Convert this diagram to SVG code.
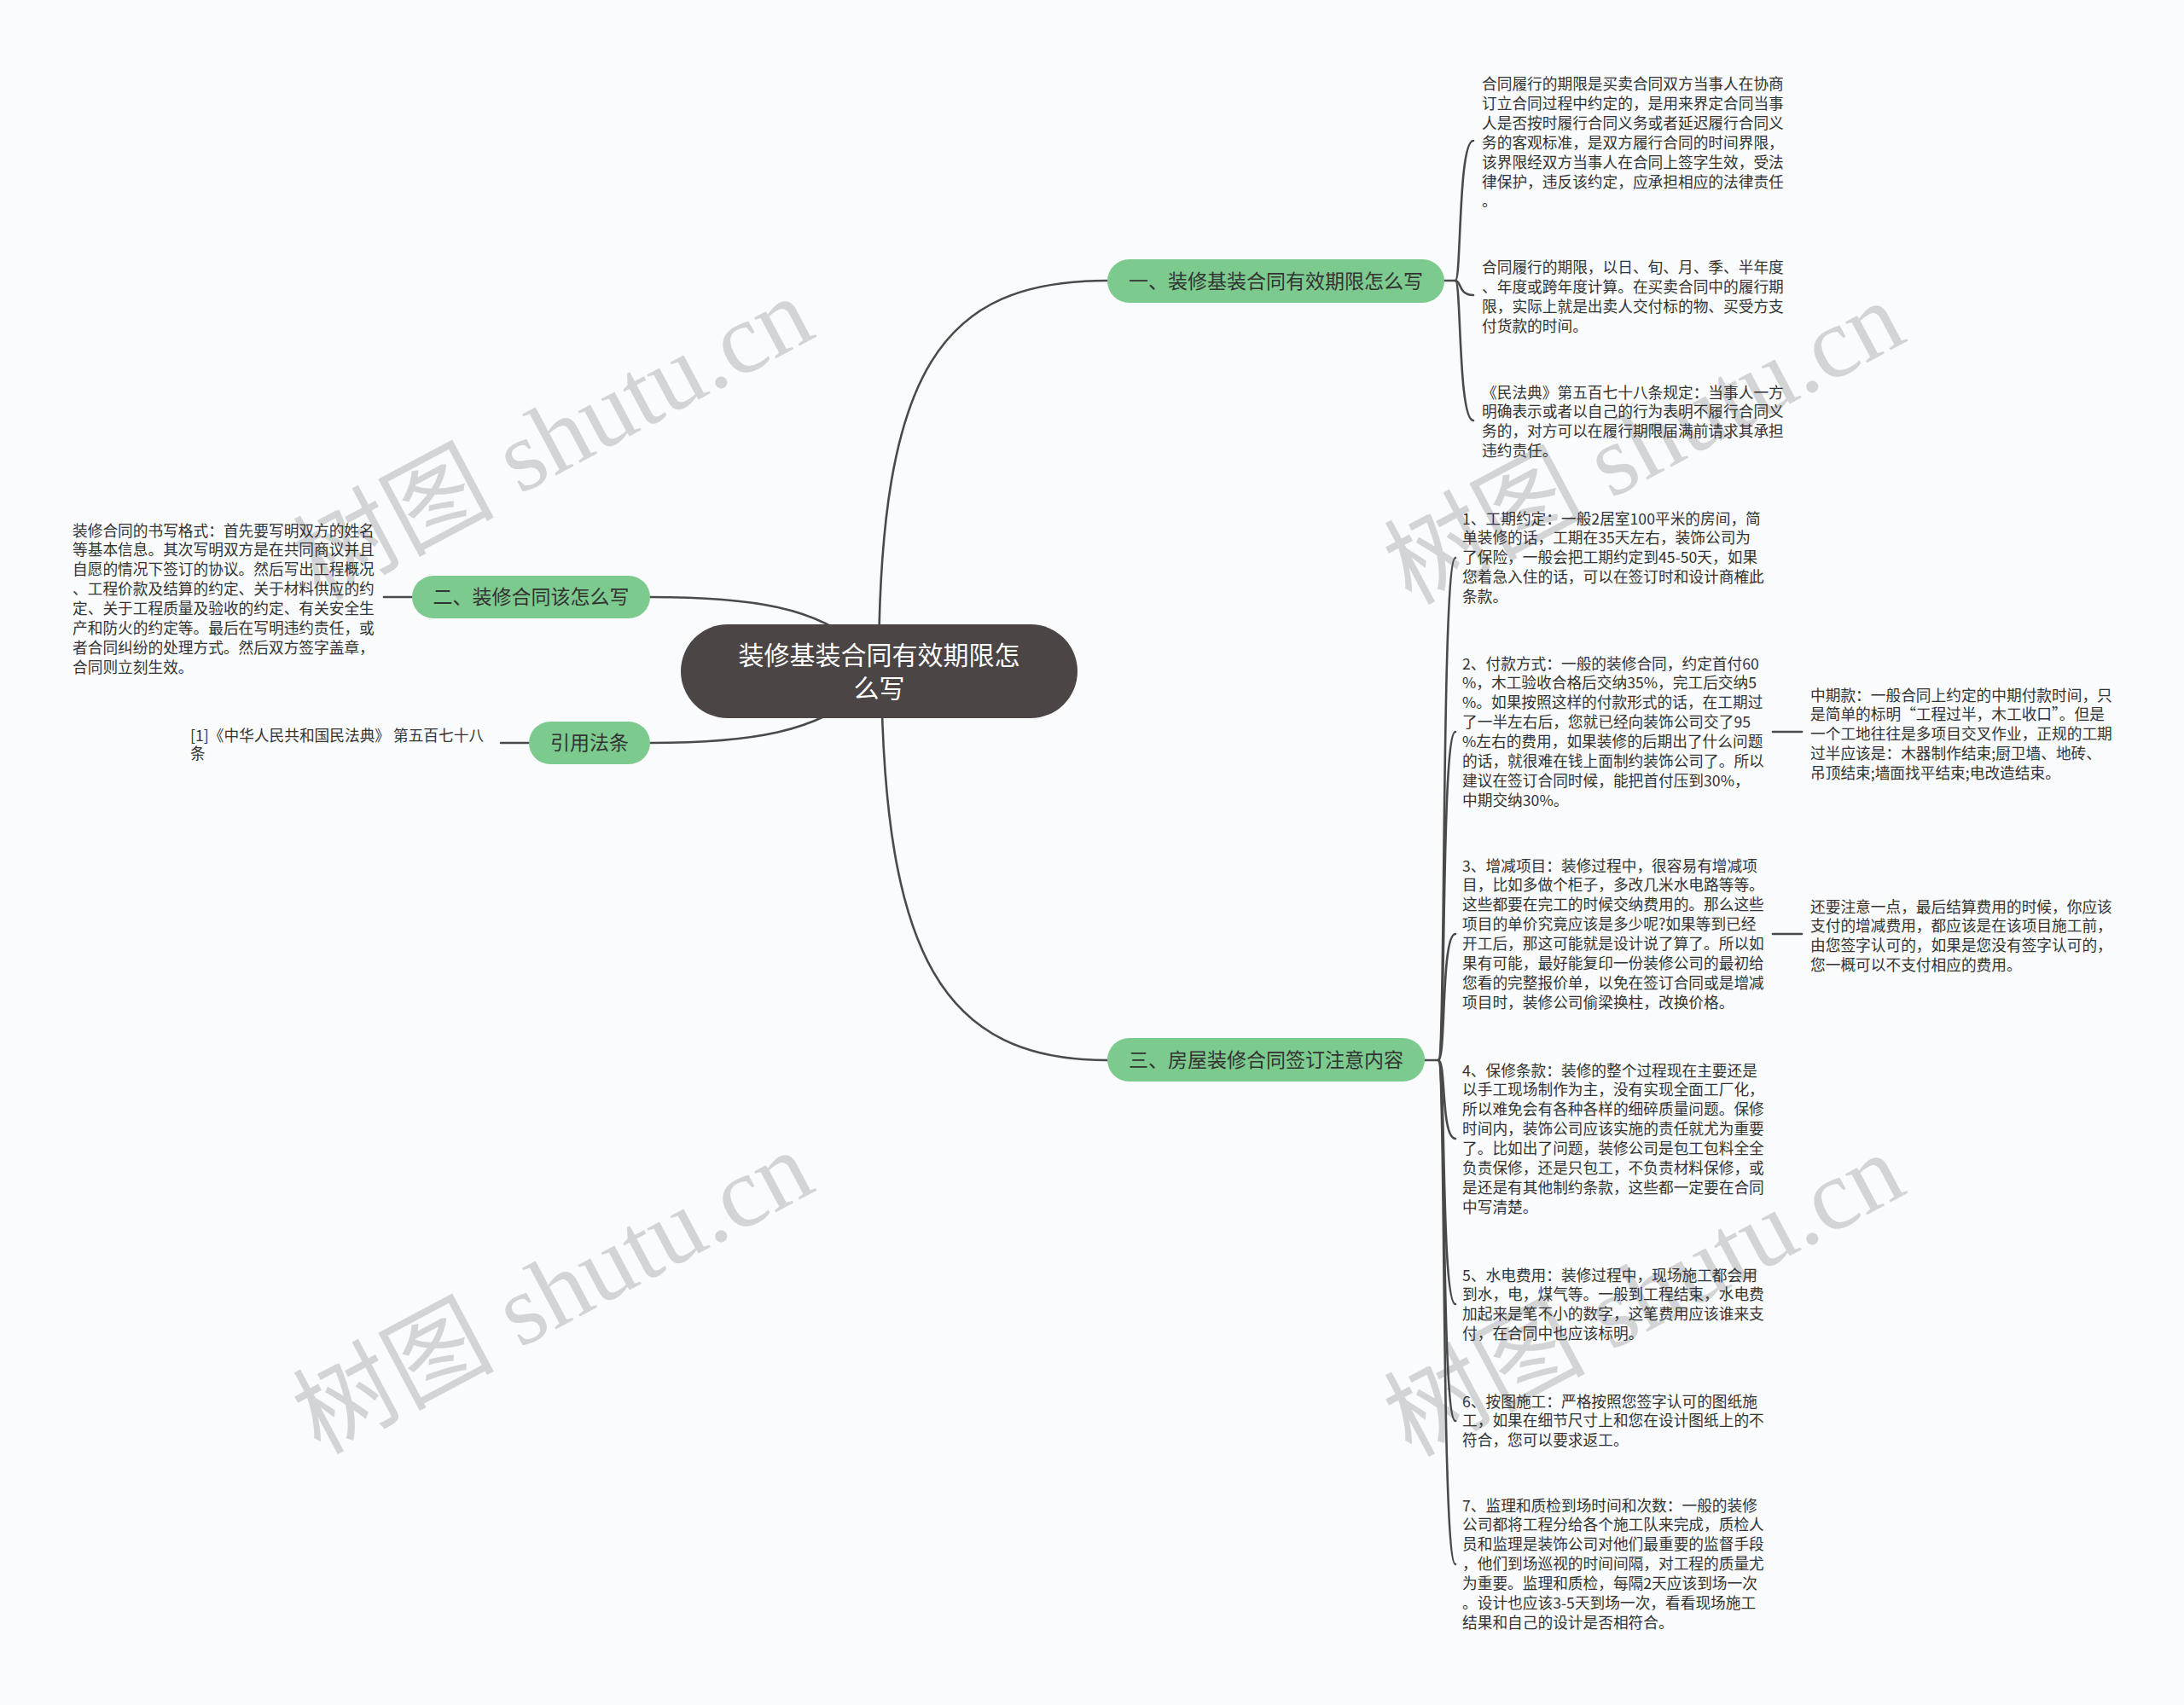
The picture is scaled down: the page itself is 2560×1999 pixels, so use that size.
<svg xmlns="http://www.w3.org/2000/svg" width="2560" height="1999" viewBox="0 0 2560 1999">
<style>
.bg{fill:#f9fbfc}
.wm{font-family:"Liberation Serif","Noto Sans CJK SC",serif;font-size:118px;fill:#d2d4d5;text-anchor:middle}
.ln{fill:none;stroke:#4a4a4a;stroke-width:2.6;stroke-linecap:round}
.t{font-family:"Noto Sans CJK SC","Noto Sans",sans-serif;font-size:17.7px;fill:#333}
.br rect{fill:#7dca8e}
.br text{font-family:"Noto Sans CJK SC","Noto Sans",sans-serif;font-size:23px;fill:#333;text-anchor:middle}
.root rect{fill:#4b4546}
.root text{font-family:"Noto Sans CJK SC","Noto Sans",sans-serif;font-size:30px;fill:#fff;text-anchor:middle}
</style>
<rect class="bg" x="0" y="0" width="2560" height="1999"/>
<g id="watermarks">
<text class="wm" transform="translate(648,514) rotate(-28)" y="40">树图 shutu.cn</text>
<text class="wm" transform="translate(1927,519) rotate(-28)" y="40">树图 shutu.cn</text>
<text class="wm" transform="translate(648,1515) rotate(-28)" y="40">树图 shutu.cn</text>
<text class="wm" transform="translate(1927,1518) rotate(-28)" y="40">树图 shutu.cn</text>
</g>
<g id="connectors">
<path class="ln" d="M1030 787 C1030 430 1105 329 1298 329"/>
<path class="ln" d="M1033 787 C1036 1120 1105 1243 1298 1243"/>
<path class="ln" d="M1010 760 C960 712 880 700 762 700"/>
<path class="ln" d="M1010 810 C960 858 880 871 762 871"/>
<path class="ln" d="M1693 329 H1706"/>
<path class="ln" d="M1706 329 C1713 329 1709 165 1727 165"/>
<path class="ln" d="M1706 329 C1713 329 1709 346 1727 346"/>
<path class="ln" d="M1706 329 C1713 329 1709 493 1727 493"/>
<path class="ln" d="M1669 1243 H1686"/>
<path class="ln" d="M1686 1243 C1695 1243 1689 654 1706 654"/>
<path class="ln" d="M1686 1243 C1695 1243 1689 858 1706 858"/>
<path class="ln" d="M1686 1243 C1695 1243 1689 1095 1706 1095"/>
<path class="ln" d="M1686 1243 C1695 1243 1689 1335 1706 1335"/>
<path class="ln" d="M1686 1243 C1695 1243 1689 1529 1706 1529"/>
<path class="ln" d="M1686 1243 C1695 1243 1689 1666 1706 1666"/>
<path class="ln" d="M1686 1243 C1695 1243 1689 1834 1706 1834"/>
<path class="ln" d="M2078 858 H2112"/>
<path class="ln" d="M2078 1095 H2112"/>
<path class="ln" d="M483 700 H450"/>
<path class="ln" d="M620 871 H587"/>
</g>
<g id="root" class="root">
<rect x="798" y="732" width="465" height="110" rx="55"/>
<text x="1030.5" y="779">装修基装合同有效期限怎</text>
<text x="1030.5" y="818">么写</text>
</g>
<g id="branch1" class="br">
<rect x="1298" y="304" width="395" height="51" rx="25.5"/>
<text x="1495.5" y="337.5">一、装修基装合同有效期限怎么写</text>
</g>
<g id="branch2" class="br">
<rect x="483" y="675" width="279" height="50" rx="25"/>
<text x="622.5" y="708">二、装修合同该怎么写</text>
</g>
<g id="branch3" class="br">
<rect x="1298" y="1217" width="372" height="51" rx="25.5"/>
<text x="1484" y="1250.5">三、房屋装修合同签订注意内容</text>
</g>
<g id="branch4" class="br">
<rect x="620" y="846" width="142" height="50" rx="25"/>
<text x="691" y="879">引用法条</text>
</g>
<g id="b1c1"><text class="t" x="1737" y="105"><tspan x="1737">合同履行的期限是买卖合同双方当事人在协商</tspan><tspan x="1737" dy="22.9">订立合同过程中约定的，是用来界定合同当事</tspan><tspan x="1737" dy="22.9">人是否按时履行合同义务或者延迟履行合同义</tspan><tspan x="1737" dy="22.9">务的客观标准，是双方履行合同的时间界限，</tspan><tspan x="1737" dy="22.9">该界限经双方当事人在合同上签字生效，受法</tspan><tspan x="1737" dy="22.9">律保护，违反该约定，应承担相应的法律责任</tspan><tspan x="1737" dy="22.9">。</tspan></text></g>
<g id="b1c2"><text class="t" x="1737" y="320"><tspan x="1737">合同履行的期限，以日、旬、月、季、半年度</tspan><tspan x="1737" dy="22.9">、年度或跨年度计算。在买卖合同中的履行期</tspan><tspan x="1737" dy="22.9">限，实际上就是出卖人交付标的物、买受方支</tspan><tspan x="1737" dy="22.9">付货款的时间。</tspan></text></g>
<g id="b1c3"><text class="t" x="1737" y="466.5"><tspan x="1737">《民法典》第五百七十八条规定：当事人一方</tspan><tspan x="1737" dy="22.9">明确表示或者以自己的行为表明不履行合同义</tspan><tspan x="1737" dy="22.9">务的，对方可以在履行期限届满前请求其承担</tspan><tspan x="1737" dy="22.9">违约责任。</tspan></text></g>
<g id="b2c1"><text class="t" x="85" y="628.5"><tspan x="85">装修合同的书写格式：首先要写明双方的姓名</tspan><tspan x="85" dy="22.9">等基本信息。其次写明双方是在共同商议并且</tspan><tspan x="85" dy="22.9">自愿的情况下签订的协议。然后写出工程概况</tspan><tspan x="85" dy="22.9">、工程价款及结算的约定、关于材料供应的约</tspan><tspan x="85" dy="22.9">定、关于工程质量及验收的约定、有关安全生</tspan><tspan x="85" dy="22.9">产和防火的约定等。最后在写明违约责任，或</tspan><tspan x="85" dy="22.9">者合同纠纷的处理方式。然后双方签字盖章，</tspan><tspan x="85" dy="22.9">合同则立刻生效。</tspan></text></g>
<g id="b4c1"><text class="t" x="223" y="868.5"><tspan x="223">[1]《中华人民共和国民法典》 第五百七十八</tspan><tspan x="223" dy="21.5">条</tspan></text></g>
<g id="b3c1"><text class="t" x="1714" y="614.5"><tspan x="1714">1、工期约定：一般2居室100平米的房间，简</tspan><tspan x="1714" dy="22.9">单装修的话，工期在35天左右，装饰公司为</tspan><tspan x="1714" dy="22.9">了保险，一般会把工期约定到45-50天，如果</tspan><tspan x="1714" dy="22.9">您着急入住的话，可以在签订时和设计商榷此</tspan><tspan x="1714" dy="22.9">条款。</tspan></text></g>
<g id="b3c2"><text class="t" x="1714" y="784.5"><tspan x="1714">2、付款方式：一般的装修合同，约定首付60</tspan><tspan x="1714" dy="22.9">%，木工验收合格后交纳35%，完工后交纳5</tspan><tspan x="1714" dy="22.9">%。如果按照这样的付款形式的话，在工期过</tspan><tspan x="1714" dy="22.9">了一半左右后，您就已经向装饰公司交了95</tspan><tspan x="1714" dy="22.9">%左右的费用，如果装修的后期出了什么问题</tspan><tspan x="1714" dy="22.9">的话，就很难在钱上面制约装饰公司了。所以</tspan><tspan x="1714" dy="22.9">建议在签订合同时候，能把首付压到30%，</tspan><tspan x="1714" dy="22.9">中期交纳30%。</tspan></text></g>
<g id="b3c2a"><text class="t" x="2122" y="821.5"><tspan x="2122">中期款：一般合同上约定的中期付款时间，只</tspan><tspan x="2122" dy="22.9">是简单的标明“工程过半，木工收口”。但是</tspan><tspan x="2122" dy="22.9">一个工地往往是多项目交叉作业，正规的工期</tspan><tspan x="2122" dy="22.9">过半应该是：木器制作结束;厨卫墙、地砖、</tspan><tspan x="2122" dy="22.9">吊顶结束;墙面找平结束;电改造结束。</tspan></text></g>
<g id="b3c3"><text class="t" x="1714" y="1021.5"><tspan x="1714">3、增减项目：装修过程中，很容易有增减项</tspan><tspan x="1714" dy="22.9">目，比如多做个柜子，多改几米水电路等等。</tspan><tspan x="1714" dy="22.9">这些都要在完工的时候交纳费用的。那么这些</tspan><tspan x="1714" dy="22.9">项目的单价究竟应该是多少呢?如果等到已经</tspan><tspan x="1714" dy="22.9">开工后，那这可能就是设计说了算了。所以如</tspan><tspan x="1714" dy="22.9">果有可能，最好能复印一份装修公司的最初给</tspan><tspan x="1714" dy="22.9">您看的完整报价单，以免在签订合同或是增减</tspan><tspan x="1714" dy="22.9">项目时，装修公司偷梁换柱，改换价格。</tspan></text></g>
<g id="b3c3a"><text class="t" x="2122" y="1069.5"><tspan x="2122">还要注意一点，最后结算费用的时候，你应该</tspan><tspan x="2122" dy="22.9">支付的增减费用，都应该是在该项目施工前，</tspan><tspan x="2122" dy="22.9">由您签字认可的，如果是您没有签字认可的，</tspan><tspan x="2122" dy="22.9">您一概可以不支付相应的费用。</tspan></text></g>
<g id="b3c4"><text class="t" x="1714" y="1261.5"><tspan x="1714">4、保修条款：装修的整个过程现在主要还是</tspan><tspan x="1714" dy="22.9">以手工现场制作为主，没有实现全面工厂化，</tspan><tspan x="1714" dy="22.9">所以难免会有各种各样的细碎质量问题。保修</tspan><tspan x="1714" dy="22.9">时间内，装饰公司应该实施的责任就尤为重要</tspan><tspan x="1714" dy="22.9">了。比如出了问题，装修公司是包工包料全全</tspan><tspan x="1714" dy="22.9">负责保修，还是只包工，不负责材料保修，或</tspan><tspan x="1714" dy="22.9">是还是有其他制约条款，这些都一定要在合同</tspan><tspan x="1714" dy="22.9">中写清楚。</tspan></text></g>
<g id="b3c5"><text class="t" x="1714" y="1501.5"><tspan x="1714">5、水电费用：装修过程中，现场施工都会用</tspan><tspan x="1714" dy="22.9">到水，电，煤气等。一般到工程结束，水电费</tspan><tspan x="1714" dy="22.9">加起来是笔不小的数字，这笔费用应该谁来支</tspan><tspan x="1714" dy="22.9">付，在合同中也应该标明。</tspan></text></g>
<g id="b3c6"><text class="t" x="1714" y="1649.5"><tspan x="1714">6、按图施工：严格按照您签字认可的图纸施</tspan><tspan x="1714" dy="22.9">工，如果在细节尺寸上和您在设计图纸上的不</tspan><tspan x="1714" dy="22.9">符合，您可以要求返工。</tspan></text></g>
<g id="b3c7"><text class="t" x="1714" y="1771.5"><tspan x="1714">7、监理和质检到场时间和次数：一般的装修</tspan><tspan x="1714" dy="22.9">公司都将工程分给各个施工队来完成，质检人</tspan><tspan x="1714" dy="22.9">员和监理是装饰公司对他们最重要的监督手段</tspan><tspan x="1714" dy="22.9">，他们到场巡视的时间间隔，对工程的质量尤</tspan><tspan x="1714" dy="22.9">为重要。监理和质检，每隔2天应该到场一次</tspan><tspan x="1714" dy="22.9">。设计也应该3-5天到场一次，看看现场施工</tspan><tspan x="1714" dy="22.9">结果和自己的设计是否相符合。</tspan></text></g>
</svg>
